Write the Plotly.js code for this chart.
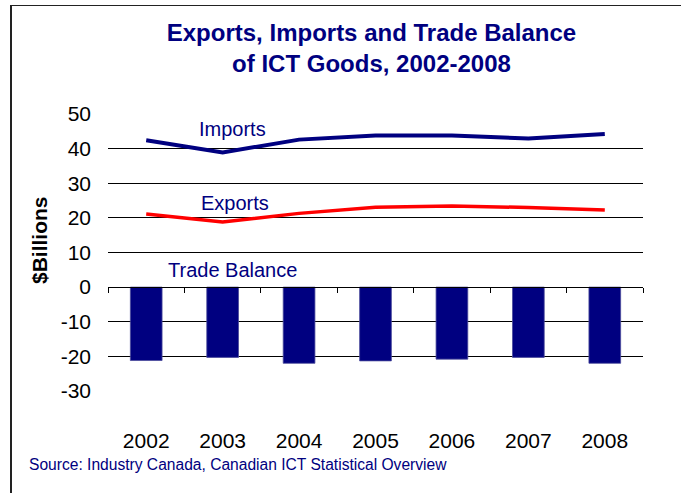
<!DOCTYPE html>
<html>
<head>
<meta charset="utf-8">
<script src="https://cdn.plot.ly/plotly-3.0.1.min.js"></script>
<style>
  html, body { margin: 0; padding: 0; background: #fff; }
  #chart { width: 681px; height: 493px; position: absolute; left: 0; top: 0; }
  #frame { position: absolute; left: 10px; top: 5px; width: 700px; height: 520px;
           border-left: 2px solid #222; border-top: 1.5px solid #222; pointer-events: none; }
  #wrap { position: relative; width: 681px; height: 493px; overflow: hidden; }
</style>
</head>
<body>
<div id="wrap">
  <div id="chart"></div>
  <div id="frame"></div>
</div>
<script>
// ---- data ----
const categories = ['2002', '2003', '2004', '2005', '2006', '2007', '2008'];
const importsValues = [42.4, 38.9, 42.6, 43.8, 43.8, 42.9, 44.2];
const exportsValues = [21.1, 18.8, 21.3, 23.1, 23.4, 23.0, 22.3];
const tradeBalanceValues = [-21.2, -20.3, -22.0, -21.3, -20.8, -20.3, -22.0];
const yTickValues = [-30, -20, -10, 0, 10, 20, 30, 40, 50];
const gridValues = [-20, -10, 0, 10, 20, 30, 40];
const yRange = [-30, 50];

const navy = '#000080';
const font = 'Liberation Sans, Arial, sans-serif';

const boundaries = categories.map((c, i) => i - 0.5).concat([categories.length - 0.5]);
const zeroPos = (0 - yRange[0]) / (yRange[1] - yRange[0]);

const traces = [
  { type: 'bar', x: categories, y: tradeBalanceValues, marker: { color: navy, line: { color: '#4a4a9a', width: 0.8 } },
    name: 'Trade Balance', hoverinfo: 'x+y' },
  { type: 'scatter', mode: 'lines', x: categories, y: importsValues, line: { color: navy, width: 4 }, name: 'Imports' },
  { type: 'scatter', mode: 'lines', x: categories, y: exportsValues, line: { color: '#ff0000', width: 3.5 }, name: 'Exports' },
  { type: 'scatter', mode: 'markers', x: categories.map((c, i) => i), y: tradeBalanceValues,
    xaxis: 'x2', yaxis: 'y2', marker: { opacity: 0 }, hoverinfo: 'skip', showlegend: false }
];

const ML = 108, MR = 38, MT = 114, MB = 102, W = 681, H = 493;
const pw = W - ML - MR, ph = H - MT - MB;

const layout = {
  width: W, height: H,
  margin: { l: ML, r: MR, t: MT, b: MB },
  paper_bgcolor: '#fff', plot_bgcolor: '#fff',
  showlegend: false,
  bargap: 0.585,
  font: { family: font, color: '#000' },
  title: {
    text: '<b>Exports, Imports and Trade Balance<br>of ICT Goods, 2002-2008</b>',
    font: { family: font, size: 24, color: navy },
    x: 371.5 / W, xanchor: 'center', xref: 'container',
    y: 1 - 41 / H, yanchor: 'middle', yref: 'container'
  },
  xaxis: {
    type: 'category', range: [-0.5, categories.length - 0.5],
    showline: false, ticks: '', showgrid: false, zeroline: false,
    tickfont: { family: font, size: 21, color: '#000' }, ticklabelstandoff: 35
  },
  yaxis: {
    range: yRange, tickvals: gridValues, showticklabels: false,
    showgrid: true, gridcolor: '#000', gridwidth: 1, zeroline: false, showline: false, ticks: ''
  },
  xaxis2: {
    overlaying: 'x', anchor: 'free', position: zeroPos, side: 'bottom',
    range: [-0.5, categories.length - 0.5], tickvals: boundaries,
    ticks: 'outside', ticklen: 5, tickwidth: 1, tickcolor: '#000',
    showticklabels: false, showgrid: false, zeroline: false,
    showline: true, linecolor: '#000', linewidth: 1
  },
  yaxis2: {
    overlaying: 'y', anchor: 'x', side: 'left', range: yRange,
    tickvals: yTickValues, ticktext: yTickValues.map(String),
    showgrid: false, zeroline: false, showline: false, ticks: '',
    tickfont: { family: font, size: 21, color: '#000' }, ticklabelstandoff: 16
  },
  annotations: [
    { text: 'Imports', x: 1.135, y: 45.7, xref: 'x', yref: 'y', showarrow: false,
      font: { family: font, size: 20, color: navy }, xanchor: 'center', yanchor: 'middle' },
    { text: 'Exports', x: 1.16, y: 24.2, xref: 'x', yref: 'y', showarrow: false,
      font: { family: font, size: 20, color: navy }, xanchor: 'center', yanchor: 'middle' },
    { text: 'Trade Balance', x: 1.13, y: 5.0, xref: 'x', yref: 'y', showarrow: false,
      font: { family: font, size: 20, color: navy }, xanchor: 'center', yanchor: 'middle' },
    { text: '<b>$Billions</b>', textangle: -90, x: (39 - ML) / pw, y: (H - MB - 240) / ph,
      xref: 'paper', yref: 'paper', showarrow: false,
      font: { family: font, size: 21, color: '#000' }, xanchor: 'center', yanchor: 'middle' },
    { text: 'Source: Industry Canada, Canadian ICT Statistical Overview', x: (27 - ML) / pw, y: (H - MB - 464) / ph,
      xref: 'paper', yref: 'paper', showarrow: false,
      font: { family: font, size: 15.6, color: navy }, xanchor: 'left', yanchor: 'middle' }
  ]
};

Plotly.newPlot('chart', traces, layout, { displayModeBar: false, staticPlot: true });
</script>
</body>
</html>
